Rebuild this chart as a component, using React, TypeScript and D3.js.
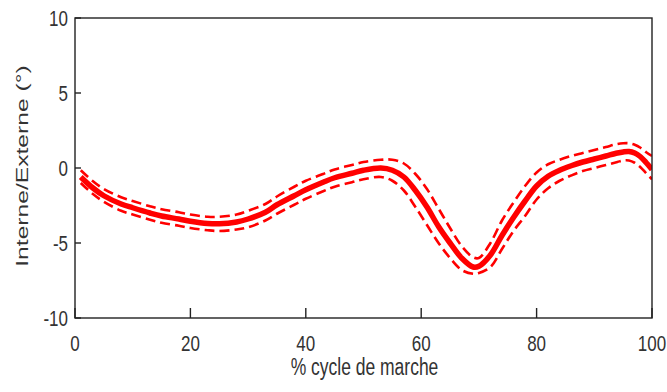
import React from "react";
import * as d3 from "d3";

const cycle = [1, 3, 5, 8, 10, 13, 15, 18, 20, 23, 25, 28, 30, 33, 35, 38, 40, 43, 45, 48, 50, 53, 55, 57, 59, 61, 63, 65, 67, 69, 70, 72, 74, 76, 78, 80, 82, 84, 86, 88, 90, 92, 94, 95, 96, 97, 98, 99, 100];
const meanValues = [-0.6, -1.3, -1.85, -2.4, -2.65, -3.0, -3.2, -3.4, -3.55, -3.7, -3.72, -3.6, -3.4, -2.95, -2.45, -1.85, -1.45, -0.95, -0.65, -0.35, -0.15, 0.0, -0.15, -0.6, -1.5, -2.6, -3.9, -5.0, -6.0, -6.6, -6.55, -5.8, -4.5, -3.3, -2.2, -1.2, -0.55, -0.15, 0.15, 0.4, 0.6, 0.8, 1.0, 1.07, 1.1, 1.0, 0.75, 0.35, -0.1];
const upperValues = [-0.15, -0.85, -1.4, -1.95, -2.2, -2.55, -2.75, -2.95, -3.1, -3.25, -3.25, -3.1, -2.85, -2.4, -1.9, -1.25, -0.85, -0.4, -0.1, 0.2, 0.4, 0.55, 0.55, 0.3, -0.4, -1.4, -2.7, -4.0, -5.2, -5.95, -6.0, -5.0, -3.5, -2.3, -1.2, -0.3, 0.25, 0.55, 0.8, 1.0, 1.2, 1.4, 1.6, 1.65, 1.65, 1.55, 1.35, 1.05, 0.8];
const lowerValues = [-1.0, -1.7, -2.25, -2.85, -3.1, -3.45, -3.65, -3.85, -4.0, -4.15, -4.2, -4.1, -3.95, -3.5, -3.05, -2.45, -2.05, -1.55, -1.25, -0.95, -0.75, -0.6, -0.85, -1.5, -2.6, -3.8, -5.0, -6.0, -6.8, -7.05, -7.0, -6.6, -5.4, -4.2, -3.2, -2.1, -1.35, -0.85, -0.5, -0.2, 0.0, 0.2, 0.4, 0.5, 0.5, 0.35, 0.05, -0.35, -0.75];
const xTicks = [0, 20, 40, 60, 80, 100];
const yTicks = [-10, -5, 0, 5, 10];
const xTitle = "% cycle de marche";
const yTitle = "Interne/Externe (°)";

const W = 667;
const H = 392;
const left = 75, right = 652, top = 18, bottom = 318;
const FONT = "'Liberation Sans', Arial, sans-serif";
const TXT = "#333";

export default function App() {
  const x = d3.scaleLinear().domain([0, 100]).range([left, right]);
  const y = d3.scaleLinear().domain([-10, 10]).range([bottom, top]);
  const mk = (vals: number[]) =>
    d3
      .line<number>()
      .x((_, i) => x(cycle[i]))
      .y((d) => y(d))
      .curve(d3.curveCatmullRom)(vals) || "";

  return (
    <svg
      width={W}
      height={H}
      style={{ position: "absolute", left: 0, top: 0, display: "block", background: "#fff" }}
    >
      <rect x={0} y={0} width={W} height={H} fill="#fff" />
      <defs>
        <clipPath id="plotclip">
          <rect x={left} y={top} width={right - left} height={bottom - top} />
        </clipPath>
      </defs>
      <g clipPath="url(#plotclip)">
        <path d={mk(upperValues)} fill="none" stroke="#ff0000" strokeWidth={2.6} strokeDasharray="10 5" />
        <path d={mk(lowerValues)} fill="none" stroke="#ff0000" strokeWidth={2.6} strokeDasharray="10 5" />
        <path d={mk(meanValues)} fill="none" stroke="#ff0000" strokeWidth={5.5} strokeLinejoin="round" />
      </g>
      <rect x={left} y={top} width={right - left} height={bottom - top} fill="none" stroke="#222" strokeWidth={1.4} />
      {yTicks.map((t) => (
        <g key={"y" + t}>
          <line x1={left} x2={left + 6} y1={y(t)} y2={y(t)} stroke="#222" strokeWidth={1.4} />
          <text
            transform={`translate(68,${y(t) + 8}) scale(1,1.35)`}
            textAnchor="end"
            fontFamily={FONT}
            fontSize={17}
            fill={TXT}
          >
            {t}
          </text>
        </g>
      ))}
      {xTicks.map((t) => (
        <g key={"x" + t}>
          <line x1={x(t)} x2={x(t)} y1={bottom} y2={bottom - 10} stroke="#222" strokeWidth={1.4} />
          <text
            transform={`translate(${x(t)},351) scale(1,1.35)`}
            textAnchor="middle"
            fontFamily={FONT}
            fontSize={17}
            fill={TXT}
          >
            {t}
          </text>
        </g>
      ))}
      <text
        transform={`translate(${(left + right) / 2 + 1},375) scale(1,1.35)`}
        textAnchor="middle"
        fontFamily={FONT}
        fontSize={17.5}
        fill={TXT}
      >
        {xTitle}
      </text>
      <text
        transform={`translate(28,166) rotate(-90) scale(1.45,1)`}
        textAnchor="middle"
        fontFamily={FONT}
        fontSize={17}
        fill={TXT}
      >
        {yTitle}
      </text>
    </svg>
  );
}
